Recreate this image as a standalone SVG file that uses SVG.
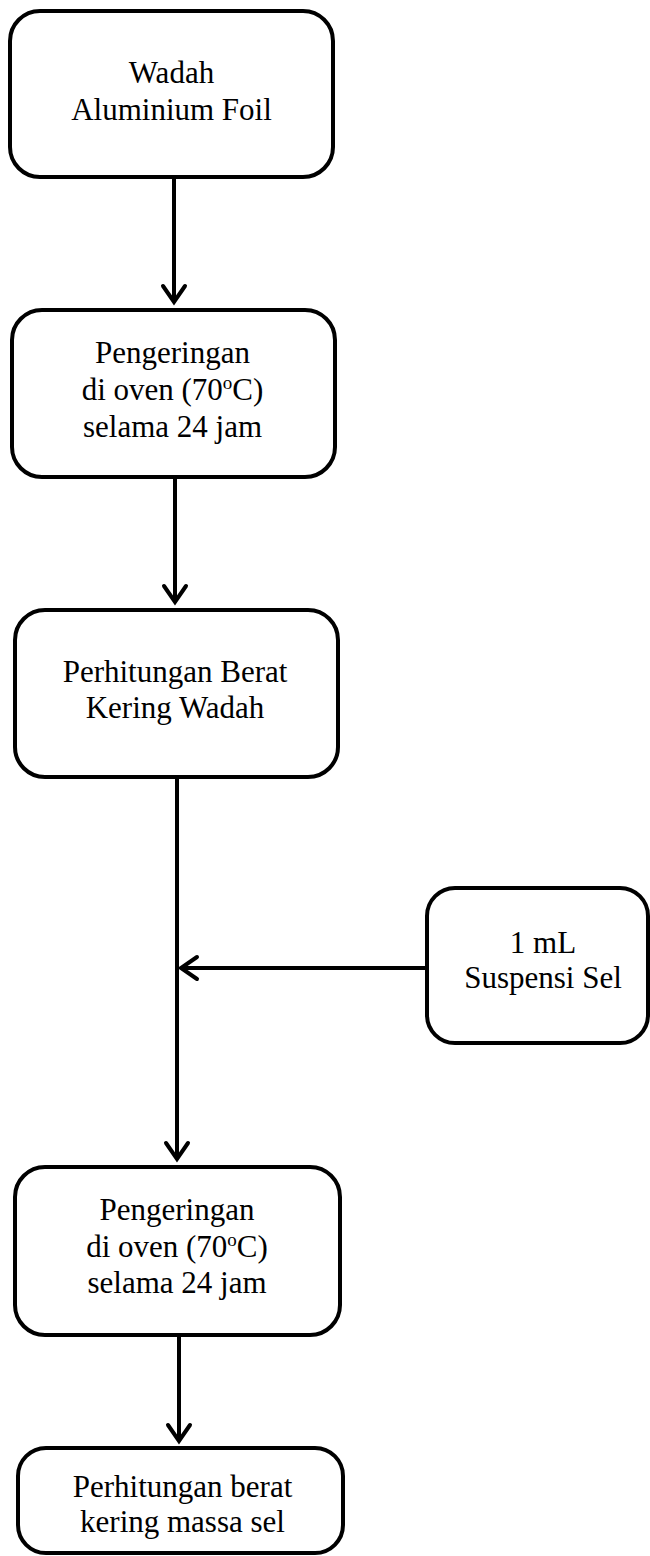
<svg xmlns="http://www.w3.org/2000/svg" width="650" height="1556" viewBox="0 0 650 1556">
<defs>
<style>
.box{fill:#fff;stroke:#000;stroke-width:4}
.lbl{font-family:'Liberation Serif','DejaVu Serif',serif;font-size:31px;fill:#000;text-anchor:middle}
.sup{font-size:19px}
.con{fill:none;stroke:#000;stroke-width:4}
</style>
<marker id="arr" markerUnits="userSpaceOnUse" viewBox="-22 -14 26 28" markerWidth="26" markerHeight="28" refX="0" refY="0" orient="auto">
<path d="M-16,-11 L0,0 L-16,11" fill="none" stroke="#000" stroke-width="4" stroke-linecap="round" stroke-linejoin="miter"/>
</marker>
</defs>
<rect width="650" height="1556" fill="#fff"/>
<g id="connectors">
<line class="con" x1="174" y1="179" x2="174" y2="302" marker-end="url(#arr)"/>
<line class="con" x1="175" y1="479" x2="175" y2="602" marker-end="url(#arr)"/>
<line class="con" x1="177" y1="779" x2="177" y2="1159" marker-end="url(#arr)"/>
<line class="con" x1="427" y1="968" x2="181" y2="968" marker-end="url(#arr)"/>
<line class="con" x1="179" y1="1337" x2="179" y2="1441" marker-end="url(#arr)"/>
</g>
<g id="n1">
<rect class="box" x="10" y="11" width="323" height="166" rx="30"/>
<text class="lbl" font-family="Liberation Serif, serif" x="171.5" y="83">Wadah</text>
<text class="lbl" font-family="Liberation Serif, serif" x="171.5" y="120">Aluminium Foil</text>
</g>
<g id="n2">
<rect class="box" x="12" y="310" width="323" height="167" rx="30"/>
<text class="lbl" font-family="Liberation Serif, serif" x="172.5" y="363">Pengeringan</text>
<text class="lbl" font-family="Liberation Serif, serif" x="172.5" y="400">di oven (70<tspan class="sup" dy="-11">o</tspan><tspan dy="11">C)</tspan></text>
<text class="lbl" font-family="Liberation Serif, serif" x="172.5" y="437">selama 24 jam</text>
</g>
<g id="n3">
<rect class="box" x="15" y="610" width="323" height="167" rx="30"/>
<text class="lbl" font-family="Liberation Serif, serif" x="175" y="682">Perhitungan Berat</text>
<text class="lbl" font-family="Liberation Serif, serif" x="175" y="718">Kering Wadah</text>
</g>
<g id="n4">
<rect class="box" x="427" y="888" width="221" height="155" rx="28"/>
<text class="lbl" font-family="Liberation Serif, serif" x="543" y="953">1 mL</text>
<text class="lbl" font-family="Liberation Serif, serif" x="543" y="988">Suspensi Sel</text>
</g>
<g id="n5">
<rect class="box" x="15" y="1167" width="325" height="168" rx="30"/>
<text class="lbl" font-family="Liberation Serif, serif" x="177" y="1220">Pengeringan</text>
<text class="lbl" font-family="Liberation Serif, serif" x="177" y="1257">di oven (70<tspan class="sup" dy="-11">o</tspan><tspan dy="11">C)</tspan></text>
<text class="lbl" font-family="Liberation Serif, serif" x="177" y="1293">selama 24 jam</text>
</g>
<g id="n6">
<rect class="box" x="18" y="1448" width="325" height="105" rx="28"/>
<text class="lbl" font-family="Liberation Serif, serif" x="182.5" y="1497">Perhitungan berat</text>
<text class="lbl" font-family="Liberation Serif, serif" x="182.5" y="1532">kering massa sel</text>
</g>
</svg>
